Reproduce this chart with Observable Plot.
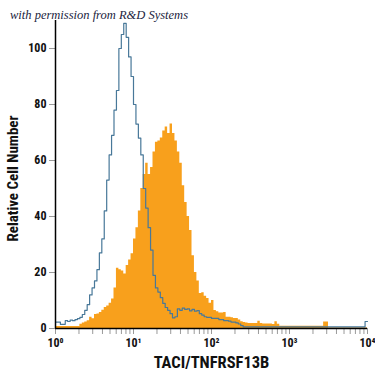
<!DOCTYPE html>
<html><head><meta charset="utf-8">
<script src="https://cdn.jsdelivr.net/npm/d3@7"></script>
<script src="https://cdn.jsdelivr.net/npm/@observablehq/plot@0.6"></script>
<style>
html,body{margin:0;padding:0;background:#fff;}
#wrap{position:relative;width:375px;height:375px;overflow:hidden;}
#credit{position:absolute;left:10px;top:8px;font-family:"Liberation Serif","DejaVu Serif",serif;font-style:italic;font-size:12.5px;color:#1b2440;z-index:2;white-space:nowrap;}
[aria-label="y-axis tick"], [aria-label="x-axis tick"]{stroke:#9a9a9a;}
</style></head><body>
<div id="wrap"><div id="credit">with permission from R&amp;D Systems</div></div>
<script>
// bins: 32 per decade, from 10^0 to 10^4 (128 channels)
const binsPerDecade = 32;
const controlCounts = [
  2.3, 2.3, 1.5, 1.5, 2.8, 2.5, 3, 2.8, 3.2, 3.5,
  4, 5, 6.5, 8.5, 12, 14.5, 17, 21, 27, 32,
  42, 53, 62, 69, 78, 85, 100, 105, 109, 104,
  97, 90, 80, 73, 68, 62, 50, 43, 36, 28,
  19, 14.5, 13, 11, 9, 7.5, 6.5, 5.3, 3.8, 4.2,
  7, 6.5, 7.3, 6.8, 7, 6.3, 6.8, 6.2, 6.4, 5.3,
  4.8, 4.2, 4, 4, 3.6, 3.6, 3.6, 3.2, 3.2, 2.8,
  2.8, 2.6, 2.3, 2.3, 2, 1.6, 1, 0.6, 0.6, 0.6,
  0.6, 0.6, 0.6, 0.6, 0.6, 0.6, 0.6, 0.6, 0.6, 0.6,
  0.6, 0.6, 0.6, 0.6, 0.6, 0.6, 0.6, 0.6, 0.6, 0.6,
  0.6, 0.6, 0.6, 0.6, 0.6, 0.6, 0.6, 0.6, 0.6, 0.6,
  0.6, 0.6, 0.6, 0.6, 0.6, 0.6, 0.6, 0.6, 0.6, 0.6,
  0.6, 0.6, 0.6, 0.6, 0.6, 0.6, 0.6, 2.5
];
const stainedCounts = [
  0.7, 0.7, 0.7, 0.7, 0.7, 0.7, 0.7, 0.7, 0.7, 0.7,
  1.5, 2, 2.3, 2.8, 4, 3.5, 5, 5.2, 5.7, 6.5,
  7.5, 8, 9, 10.5, 14.5, 21.5, 21, 20.5, 19.5, 22.5,
  24.5, 26.7, 32, 36, 42, 50, 55, 59, 55, 57.5,
  63, 66.5, 67, 68, 70.5, 72, 69.6, 73, 69.6, 67,
  63, 59, 51, 45, 40, 35, 26, 20, 17, 12.5,
  12.8, 11.5, 10.7, 9, 10, 6.4, 6, 5.5, 5.5, 5.7,
  4, 4, 3.8, 3.6, 3.6, 3, 2.4, 2.1, 2, 1.8,
  1.8, 1.8, 1.8, 2.6, 1.8, 1.6, 1.6, 1.6, 1.6, 1.4,
  2.4, 1.5, 0.8, 0.8, 0.8, 0.8, 0.8, 0.8, 0.8, 0.8,
  0.8, 0.8, 0.8, 0.8, 0.8, 0.8, 0.8, 0.8, 0.8, 0.8,
  2.3, 2.3, 0.2, 0.2, 0.2, 0.2, 0.2, 0.2, 0.2, 0.2,
  0.2, 0.2, 0.2, 0.2, 0.2, 0.2, 0.2, 0.2
];
const xTickValues = [1, 10, 100, 1000, 10000];
const xTickLabels = ["10⁰", "10¹", "10²", "10³", "10⁴"];
const yTickValues = [0, 20, 40, 60, 80, 100];
const xLabel = "TACI/TNFRSF13B";
const yLabel = "Relative Cell Number";

const edge = i => Math.pow(10, i / binsPerDecade);
function stepPoints(counts) {
  const pts = counts.map((v, i) => ({x: edge(i), y: v}));
  pts.push({x: edge(counts.length), y: counts[counts.length - 1]});
  return pts;
}
const minorTicks = [];
for (let k = 0; k < 4; k++) for (let m = 2; m <= 9; m++) minorTicks.push(m * Math.pow(10, k));

const font = "'Liberation Sans Narrow','Arial Narrow','Roboto Condensed',sans-serif";
const chart = Plot.plot({
  width: 375, height: 375,
  marginLeft: 55, marginRight: 8, marginTop: 20, marginBottom: 47,
  style: {fontFamily: font, fontSize: "12px", fontWeight: "bold", color: "#111", background: "#fff"},
  x: {type: "log", domain: [1, 10000]},
  y: {domain: [0, 110]},
  marks: [
    Plot.areaY(stepPoints(stainedCounts), {x: "x", y: "y", curve: "step-after", fill: "#f8a01c"}),
    Plot.line(stepPoints(controlCounts), {x: "x", y: "y", curve: "step-after", stroke: "#487899", strokeWidth: 1.2}),
    Plot.axisX({ticks: minorTicks, tickFormat: () => "", tickSize: 6, label: null}),
    Plot.axisX({ticks: xTickValues, tickFormat: d => xTickLabels[xTickValues.indexOf(d)], tickSize: 6, tickPadding: 4, label: null, fontSize: 12}),
    Plot.axisY({ticks: yTickValues, tickSize: 6, tickPadding: 3, label: null, fontSize: 12}),
    Plot.ruleX([1], {stroke: "#000", strokeWidth: 1.5}),
    Plot.ruleY([0], {stroke: "#000", strokeWidth: 1.5}),
    Plot.text([xLabel], {frameAnchor: "bottom", dy: 28, lineAnchor: "top", textAnchor: "middle", fontSize: 16.5, fontWeight: "bold", fill: "#111"}),
    Plot.text([yLabel], {frameAnchor: "left", dx: -42, dy: 4, rotate: -90, textAnchor: "middle", lineAnchor: "middle", fontSize: 15, fontWeight: "bold", fill: "#111"})
  ]
});
document.getElementById("wrap").appendChild(chart);
</script>
</body></html>
